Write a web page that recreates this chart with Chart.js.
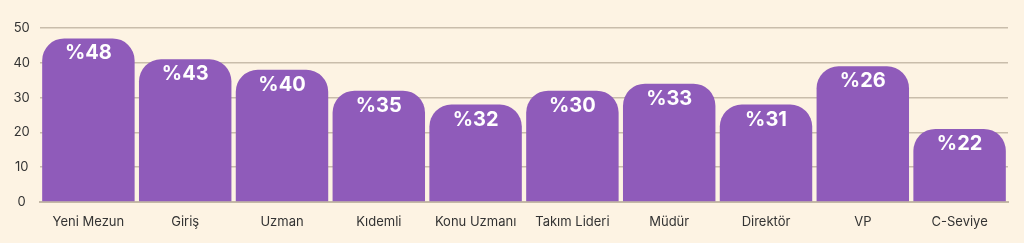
<!DOCTYPE html>
<html>
<head>
<meta charset="utf-8">
<script src="https://cdn.jsdelivr.net/npm/chart.js@4"></script>
<style>
  html, body { margin: 0; padding: 0; background: #fdf3e3; }
  #wrap { width: 1024px; height: 243px; }
</style>
</head>
<body>
<div id="wrap"><canvas id="chartSeviye"></canvas></div>
<script>
var seviyeler = ['Yeni Mezun', 'Giriş', 'Uzman', 'Kıdemli', 'Konu Uzmanı', 'Takım Lideri', 'Müdür', 'Direktör', 'VP', 'C-Seviye'];
var barDegerleri = [47, 41, 38, 32, 28, 32, 34, 28, 39, 21];
var yuzdeEtiketleri = ['%48', '%43', '%40', '%35', '%32', '%30', '%33', '%31', '%26', '%22'];
var yTikleri = [0, 10, 20, 30, 40, 50];

// bar ustune yuzde yazisi
var yuzdePlugin = {
  id: 'yuzdePlugin',
  afterDatasetsDraw: function (chart) {
    var ctx = chart.ctx;
    var meta = chart.getDatasetMeta(0);
    ctx.save();
    ctx.fillStyle = '#ffffff';
    ctx.font = 'bold 20px Inter';
    ctx.textAlign = 'center';
    ctx.textBaseline = 'middle';
    meta.data.forEach(function (bar, i) {
      ctx.fillText(yuzdeEtiketleri[i], bar.x, bar.y + 15);
    });
    ctx.restore();
  }
};

var ctx = document.getElementById('chartSeviye').getContext('2d');
var myChart = new Chart(ctx, {
  type: 'bar',
  data: {
    labels: seviyeler,
    datasets: [{
      data: barDegerleri,
      backgroundColor: '#8f5bba',
      borderRadius: { topLeft: 22, topRight: 22, bottomLeft: 0, bottomRight: 0 },
      borderSkipped: 'bottom',
      categoryPercentage: 1,
      barPercentage: 0.955
    }]
  },
  options: {
    responsive: true,
    maintainAspectRatio: false,
    animation: false,
    layout: { padding: { left: 0, right: 16, top: 28, bottom: 0 } },
    plugins: {
      legend: { display: false },
      tooltip: { enabled: false }
    },
    scales: {
      x: {
        grid: { display: false },
        border: { display: true, color: '#c4b8a6', width: 2 },
        ticks: { color: '#333333', font: { family: 'Inter', size: 13 }, padding: 4, maxRotation: 0 },
        afterFit: function (scale) { scale.height = 41; }
      },
      y: {
        min: 0,
        max: 50,
        afterBuildTicks: function (scale) {
          scale.ticks = yTikleri.map(function (v) { return { value: v }; });
        },
        grid: { color: '#c9bdab', lineWidth: 1.5, drawTicks: false },
        border: { display: false },
        ticks: { color: '#333333', font: { family: 'Inter', size: 13 }, padding: 10, crossAlign: 'center' },
        afterFit: function (scale) { scale.width = 40; }
      }
    }
  },
  plugins: [yuzdePlugin]
});
</script>
</body>
</html>
